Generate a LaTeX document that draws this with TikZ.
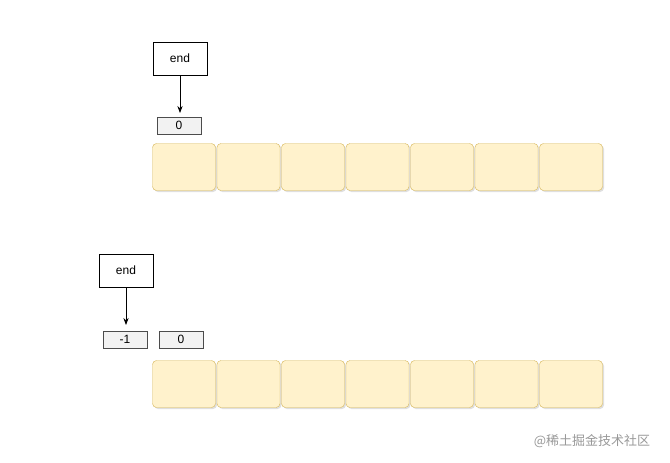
\documentclass[tikz,border=0pt]{standalone}
\usepackage{fontspec}
\setmainfont{Liberation Sans}
\newfontfamily\cjk{Noto Sans CJK SC}
\usetikzlibrary{positioning,shadows,arrows.meta}
\definecolor{cellfill}{HTML}{FFF2CC}
\definecolor{celldraw}{HTML}{D6B656}
\tikzset{cell/.style={draw=celldraw,fill=cellfill,rounded corners=4pt,minimum width=63pt,minimum height=47pt,inner sep=0pt,drop shadow={shadow xshift=1.5pt,shadow yshift=-1.5pt,opacity=0.25}},
ptr/.style={draw,thick,fill=white,minimum width=54pt,minimum height=33pt,inner sep=0pt,font=\fontsize{12}{14}\selectfont},
idx/.style={draw=black!70,fill=black!5,minimum width=44pt,minimum height=17pt,inner sep=0pt,font=\fontsize{12}{14}\selectfont}}
\begin{document}
\begin{tikzpicture}[x=1pt,y=-1pt]
\useasboundingbox[fill=white] (0,0) rectangle (670,463);

% Row 1
\node[ptr] (end1) at (180,58.5) {end};
\node[idx] (zero1) at (179,125.5) {0};
\coordinate (tip1) at (180,113);
\draw[-{Stealth[length=7pt]},thick] (end1) -- (tip1);
\foreach \i in {0,...,6}
  \node[cell] (a\i) at (184+\i*64.5,167) {};

% Row 2
\node[ptr] (end2) at (126,270.5) {end};
\node[idx] (neg2) at (125,339.5) {-1};
\node[idx] (zero2) at (181,339.5) {0};
\coordinate (tip2) at (126,325);
\draw[-{Stealth[length=7pt]},thick] (end2) -- (tip2);
\foreach \i in {0,...,6}
  \node[cell] (b\i) at (184+\i*64.5,384) {};

% Watermark
\node[text=black!40,font=\cjk\fontsize{13}{15}\selectfont] (mark) at (592,441) {@稀土掘金技术社区};
\end{tikzpicture}
\end{document}
